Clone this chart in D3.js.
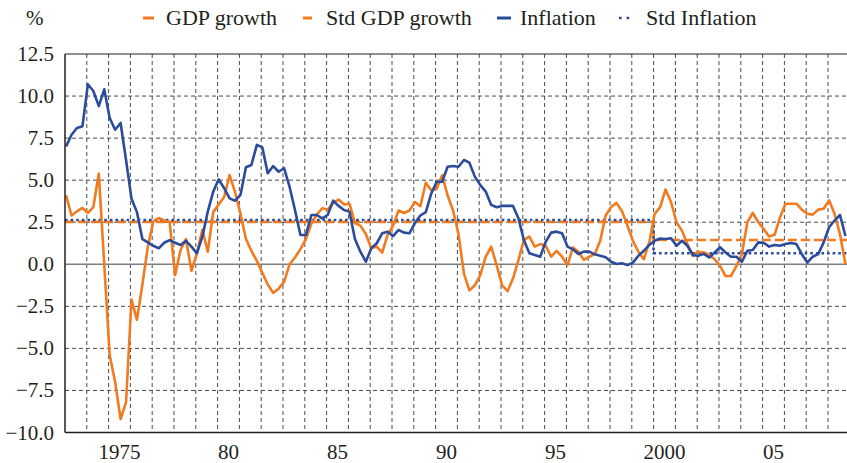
<!DOCTYPE html>
<html><head><meta charset="utf-8">
<script src="https://cdn.jsdelivr.net/npm/d3@7"></script>
<style>
body{margin:0;background:#fff;}
svg{display:block;}
text{font-family:"Liberation Serif","Times New Roman",serif;fill:#231f20;}
</style>
</head><body>
<svg id="chart" width="847" height="463"></svg>
<script>
// ---- data (quarterly, 1973Q1 – 2008Q4, % y/y) ----
const startYear = 1973;
const gdpGrowth = [
  4.1, 2.9, 3.15, 3.35, 3.05, 3.4, 5.4, 0.0, -5.4, -7.0,
  -9.2, -8.2, -2.1, -3.3, -1.2, 1.05, 2.55, 2.75, 2.6, 2.5,
  -0.65, 0.85, 1.5, -0.4, 0.65, 2.05, 0.75, 3.1, 3.55, 4.0,
  5.3, 4.3, 3.0, 1.5, 0.8, 0.2, -0.5, -1.2, -1.7, -1.45,
  -1.05, 0.0, 0.4, 0.9, 1.5, 2.4, 2.95, 3.33, 3.25, 3.65,
  3.85, 3.55, 3.6, 2.45, 2.3, 1.8, 0.95, 1.05, 0.7, 1.75,
  2.3, 3.2, 3.05, 3.2, 3.7, 3.45, 4.85, 4.4, 4.5, 5.3,
  4.1, 3.2, 1.8, -0.55, -1.55, -1.25, -0.65, 0.45, 1.05, -0.05,
  -1.25, -1.6, -0.85, 0.25, 1.45, 1.65, 1.05, 1.2, 1.1, 0.45,
  0.8, 0.45, -0.05, 1.0, 0.75, 0.26, 0.45, 0.6, 1.4, 2.9,
  3.4, 3.65, 3.15, 2.3, 1.4, 0.75, 0.3, 1.3, 3.0, 3.4,
  4.45, 3.7, 2.5, 2.0, 1.2, 0.5, 0.75, 0.7, 0.55, 0.3,
  -0.1, -0.7, -0.7, -0.1, 0.6, 2.5, 3.05, 2.5, 2.1, 1.65,
  1.75, 2.8, 3.6, 3.6, 3.6, 3.25, 3.0, 2.95, 3.25, 3.3,
  3.8, 3.0, 1.8, 0.0
];
const inflation = [
  7.0, 7.7, 8.1, 8.2, 10.7, 10.3, 9.4, 10.4, 8.7, 8.0,
  8.4, 6.2, 3.9, 3.1, 1.5, 1.3, 1.1, 0.95, 1.28, 1.44,
  1.28, 1.15, 1.39, 1.05, 0.65, 1.64, 3.13, 4.32, 5.05, 4.52,
  3.92, 3.78, 4.12, 5.77, 5.9, 7.1, 6.95, 5.41, 5.84, 5.5,
  5.71, 4.61, 3.23, 1.74, 1.74, 2.93, 2.93, 2.73, 2.93, 3.78,
  3.47, 3.23, 3.13, 1.5, 0.75, 0.15, 0.95, 1.25, 1.84, 1.94,
  1.68, 2.04, 1.88, 1.84, 2.45, 2.9, 3.1, 4.2, 4.9, 4.91,
  5.8, 5.84, 5.8, 6.2, 6.04, 5.21, 4.71, 4.32, 3.53, 3.39,
  3.47, 3.47, 3.47, 2.73, 1.44, 0.65, 0.55, 0.45, 1.34, 1.88,
  1.94, 1.84, 1.05, 0.89, 0.61, 0.75, 0.75, 0.59, 0.51, 0.42,
  0.15, 0.02, 0.06, -0.05, 0.1, 0.5, 0.8, 1.15, 1.4, 1.53,
  1.5, 1.55, 1.1, 1.4, 1.1, 0.55, 0.5, 0.62, 0.4, 0.7,
  1.01, 0.7, 0.45, 0.45, 0.15, 0.8, 0.85, 1.3, 1.28, 1.05,
  1.15, 1.1, 1.2, 1.27, 1.2, 0.6, 0.1, 0.45, 0.6, 1.3,
  2.2, 2.6, 2.93, 1.68
];
const stdPeriodStarts = [1973, 2000];
const stdPeriodEnd = 2009;
const stdGdpGrowth = [2.52, 1.44];
const stdInflation = [2.63, 0.66];
const yTicks = [-10, -7.5, -5, -2.5, 0, 2.5, 5, 7.5, 10, 12.5];
const xTickYears = [1975, 1980, 1985, 1990, 1995, 2000, 2005];
const xTickLabels = ["1975", "80", "85", "90", "95", "2000", "05"];
const legendLabels = ["GDP growth", "Std GDP growth", "Inflation", "Std Inflation"];

// ---- layout ----
const ORANGE = "#f27a1f", BLUE = "#2b4c9b";
const svg = d3.select("#chart");
svg.append("rect").attr("width", 847).attr("height", 463).attr("fill", "#fff");

const L = 65, R = 849.8, T = 54, B = 432.5;
const x = d3.scaleLinear().domain([1973, 2009]).range([L, R]);
const y = d3.scaleLinear().domain([-10, 12.5]).range([B, T]);

svg.append("defs").append("clipPath").attr("id", "plotclip")
  .append("rect").attr("x", L).attr("y", T).attr("width", R - L).attr("height", B - T);

// grid
const grid = svg.append("g");
d3.range(1974, 2009).forEach(yr => {
  grid.append("line").attr("x1", x(yr)).attr("x2", x(yr)).attr("y1", T).attr("y2", B)
    .attr("stroke", "#4a4a4a").attr("stroke-width", 1).attr("stroke-dasharray", "4,3");
});
yTicks.filter(v => v !== 0 && v !== -10 && v !== 12.5).forEach(v => {
  grid.append("line").attr("x1", L).attr("x2", R).attr("y1", y(v)).attr("y2", y(v))
    .attr("stroke", "#4a4a4a").attr("stroke-width", 1).attr("stroke-dasharray", "4,3");
});
// zero line
svg.append("line").attr("x1", L).attr("x2", R).attr("y1", y(0)).attr("y2", y(0))
  .attr("stroke", "#7f7f7f").attr("stroke-width", 1.6);

const plot = svg.append("g").attr("clip-path", "url(#plotclip)");
const t = i => startYear + i / 4 + 0.05;

// std step lines
function stdPoints(vals) {
  const pts = stdPeriodStarts.map((s, k) => [s, vals[k]]);
  pts.push([stdPeriodEnd, vals[vals.length - 1]]);
  return pts;
}
const stepLine = d3.line().x(d => x(d[0])).y(d => y(d[1])).curve(d3.curveStepAfter);
plot.append("path").attr("d", stepLine(stdPoints(stdGdpGrowth)))
  .attr("fill", "none").attr("stroke", ORANGE).attr("stroke-width", 2.6).attr("stroke-dasharray", "9,4");
plot.append("path").attr("d", stepLine(stdPoints(stdInflation)))
  .attr("fill", "none").attr("stroke", BLUE).attr("stroke-width", 2.6).attr("stroke-dasharray", "2.6,3");

const line = d3.line().x((d, i) => x(t(i))).y(d => y(d));
plot.append("path").attr("d", line(gdpGrowth)).attr("fill", "none")
  .attr("stroke", ORANGE).attr("stroke-width", 2.6).attr("stroke-linejoin", "round");
plot.append("path").attr("d", line(inflation)).attr("fill", "none")
  .attr("stroke", BLUE).attr("stroke-width", 2.6).attr("stroke-linejoin", "round");

// frame
svg.append("line").attr("x1", L).attr("x2", L).attr("y1", T).attr("y2", B).attr("stroke", "#231f20").attr("stroke-width", 1.5);
svg.append("line").attr("x1", L).attr("x2", R).attr("y1", B).attr("y2", B).attr("stroke", "#231f20").attr("stroke-width", 1.5);
svg.append("line").attr("x1", L).attr("x2", R).attr("y1", T).attr("y2", T).attr("stroke", "#231f20").attr("stroke-width", 1.2);

// y labels
const fmt = d3.format(".1f");
svg.append("g").selectAll("text").data(yTicks).join("text")
  .attr("x", 54).attr("y", d => y(d) + 7).attr("text-anchor", "end")
  .attr("font-size", 21).text(d => fmt(d));

// x labels
svg.append("g").selectAll("text").data(xTickYears).join("text")
  .attr("x", d => x(d + 0.5)).attr("y", 459).attr("text-anchor", "middle")
  .attr("font-size", 21).text((d, i) => xTickLabels[i]);

// legend
svg.append("text").attr("x", 26).attr("y", 25).attr("font-size", 21).text("%");
const lg = svg.append("g");
const lx = [143, 303, 497, 619];
const tx = [166, 326, 520, 646];
lg.append("line").attr("x1", lx[0]).attr("x2", lx[0] + 11).attr("y1", 18).attr("y2", 18).attr("stroke", ORANGE).attr("stroke-width", 3);
lg.append("line").attr("x1", lx[1]).attr("x2", lx[1] + 9).attr("y1", 18).attr("y2", 18).attr("stroke", ORANGE).attr("stroke-width", 3);
lg.append("line").attr("x1", lx[2]).attr("x2", lx[2] + 14).attr("y1", 18).attr("y2", 18).attr("stroke", BLUE).attr("stroke-width", 3);
lg.append("line").attr("x1", lx[3]).attr("x2", lx[3] + 13).attr("y1", 18).attr("y2", 18).attr("stroke", BLUE).attr("stroke-width", 2.6).attr("stroke-dasharray", "2.6,5");
legendLabels.forEach((lab, k) => {
  lg.append("text").attr("x", tx[k]).attr("y", 25).attr("font-size", 22).text(lab);
});
</script>
</body></html>
